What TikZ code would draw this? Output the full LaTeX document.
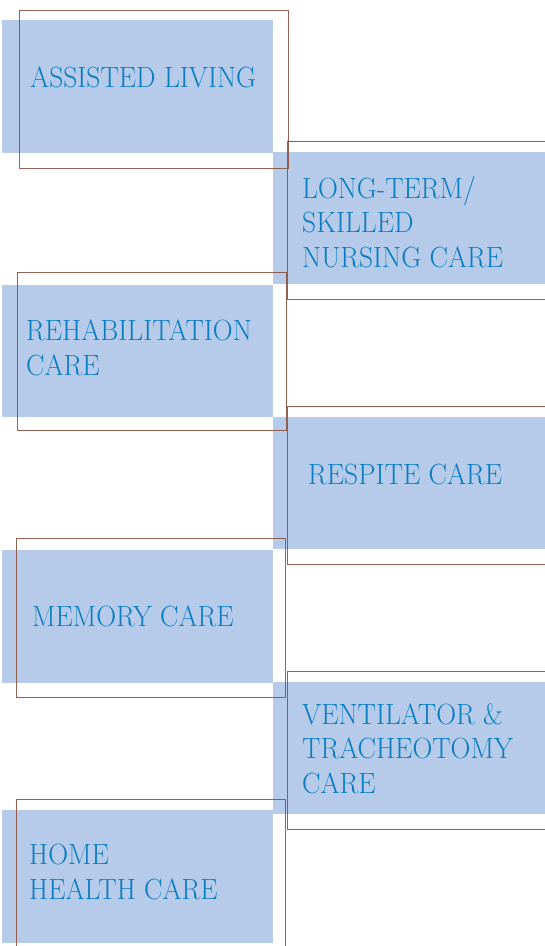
\documentclass[tikz,border=0pt]{standalone}
\usepackage{graphicx}
\definecolor{boxfill}{HTML}{B5CBE9}
\definecolor{labelblue}{HTML}{0A7DC2}
\definecolor{framebrown}{HTML}{8B5040}
\newcommand\cond[1]{\scalebox{0.94}[1]{#1}}
\tikzset{
  boxbg/.style={fill=boxfill},
  frame/.style={draw=framebrown, line width=1pt, draw opacity=0.9},
  lbl/.style={text=labelblue, anchor=base west, inner sep=0pt, align=left,
    font=\fontsize{29.3}{34.5}\selectfont}
}
\begin{document}
\begin{tikzpicture}[x=1pt,y=-1pt]
\useasboundingbox (0,0) rectangle (545,946);
\clip (0,0) rectangle (545,946);
% fills
\fill[boxbg] (2,20) rectangle (273,153);
\fill[boxbg] (273,152) rectangle (550,284);
\fill[boxbg] (2,285) rectangle (273,417);
\fill[boxbg] (273,417) rectangle (550,549);
\fill[boxbg] (2,550) rectangle (273,683);
\fill[boxbg] (273,682) rectangle (550,814);
\fill[boxbg] (2,810) rectangle (273,943);
% frames
\draw[frame] (19,10) rectangle (288,168);
\draw[frame] (287,141) rectangle (560,299);
\draw[frame] (17,272) rectangle (286,430);
\draw[frame] (287,406) rectangle (560,564);
\draw[frame] (16,538) rectangle (285,697);
\draw[frame] (287,671) rectangle (560,829);
\draw[frame] (16,799) rectangle (285,960);
% labels (base anchor = baseline of the last line)
\node[lbl] (assisted) at (30,87) {\cond{ASSISTED LIVING}};
\node[lbl] (longterm) at (302,267) {\cond{LONG-TERM/}\\\cond{SKILLED}\\\cond{NURSING CARE}};
\node[lbl] (rehab) at (26,375) {\cond{REHABILITATION}\\\cond{CARE}};
\node[lbl] (respite) at (308,484) {\cond{RESPITE CARE}};
\node[lbl] (memory) at (32,626) {\cond{MEMORY CARE}};
\node[lbl] (vent) at (302,793) {\cond{VENTILATOR \&}\\\cond{TRACHEOTOMY}\\\cond{CARE}};
\node[lbl] (home) at (29,899) {\cond{HOME}\\\cond{HEALTH CARE}};
\end{tikzpicture}
\end{document}
